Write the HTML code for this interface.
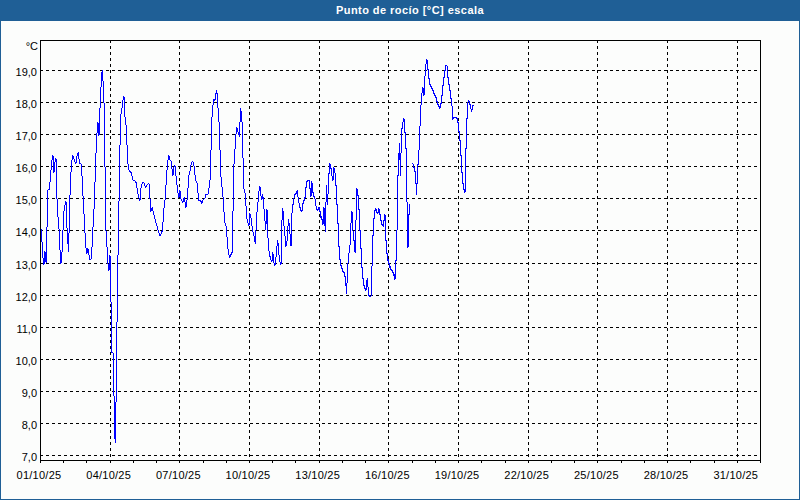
<!DOCTYPE html>
<html><head><meta charset="utf-8"><style>
html,body{margin:0;padding:0;width:800px;height:500px;overflow:hidden;background:#fcfdfc}
svg{display:block}
text{font-family:"Liberation Sans",sans-serif;font-size:11px;fill:#000}
.g{stroke:#000;stroke-width:1;stroke-dasharray:3 3;fill:none}
.t{font-weight:bold;fill:#fff}
</style></head><body>
<svg width="800" height="500" viewBox="0 0 800 500">
<rect x="0" y="0" width="800" height="500" fill="#1f5f96"/>
<rect x="1" y="21" width="798" height="478" fill="#fcfdfc"/>
<text class="t" x="410" y="14" text-anchor="middle" letter-spacing="0.45">Punto de rocío [°C] escala</text>
<line x1="40" y1="70.5" x2="760" y2="70.5" class="g"/>
<line x1="40" y1="102.5" x2="760" y2="102.5" class="g"/>
<line x1="40" y1="134.5" x2="760" y2="134.5" class="g"/>
<line x1="40" y1="166.5" x2="760" y2="166.5" class="g"/>
<line x1="40" y1="198.5" x2="760" y2="198.5" class="g"/>
<line x1="40" y1="230.5" x2="760" y2="230.5" class="g"/>
<line x1="40" y1="263.5" x2="760" y2="263.5" class="g"/>
<line x1="40" y1="295.5" x2="760" y2="295.5" class="g"/>
<line x1="40" y1="327.5" x2="760" y2="327.5" class="g"/>
<line x1="40" y1="359.5" x2="760" y2="359.5" class="g"/>
<line x1="40" y1="391.5" x2="760" y2="391.5" class="g"/>
<line x1="40" y1="423.5" x2="760" y2="423.5" class="g"/>
<line x1="40" y1="455.5" x2="760" y2="455.5" class="g"/>
<line x1="110.5" y1="40" x2="110.5" y2="460" class="g"/>
<line x1="179.5" y1="40" x2="179.5" y2="460" class="g"/>
<line x1="249.5" y1="40" x2="249.5" y2="460" class="g"/>
<line x1="319.5" y1="40" x2="319.5" y2="460" class="g"/>
<line x1="388.5" y1="40" x2="388.5" y2="460" class="g"/>
<line x1="458.5" y1="40" x2="458.5" y2="460" class="g"/>
<line x1="528.5" y1="40" x2="528.5" y2="460" class="g"/>
<line x1="597.5" y1="40" x2="597.5" y2="460" class="g"/>
<line x1="667.5" y1="40" x2="667.5" y2="460" class="g"/>
<line x1="737.5" y1="40" x2="737.5" y2="460" class="g"/>
<path d="M40.5 460V463 M63.5 460V463 M86.5 460V463 M110.5 460V463 M133.5 460V463 M156.5 460V463 M179.5 460V463 M203.5 460V463 M226.5 460V463 M249.5 460V463 M272.5 460V463 M295.5 460V463 M319.5 460V463 M342.5 460V463 M365.5 460V463 M388.5 460V463 M412.5 460V463 M435.5 460V463 M458.5 460V463 M481.5 460V463 M505.5 460V463 M528.5 460V463 M551.5 460V463 M574.5 460V463 M597.5 460V463 M621.5 460V463 M644.5 460V463 M667.5 460V463 M690.5 460V463 M714.5 460V463 M737.5 460V463 M760.5 460V463" stroke="#000" stroke-width="1" fill="none"/>
<rect x="40.5" y="40.5" width="720" height="420" fill="none" stroke="#000" stroke-width="1"/>
<path d="M40.5 229.5 L41.5 229.5 L41.5 241.5 L42.5 242.5 L42.5 257.5 L43.5 258.5 L43.5 264.5 L44.5 263.5 L44.5 251.5 L45.5 252.5 L45.5 260.5 L46.5 262.5 L46.5 227.5 L47.5 226.5 L47.5 190.5 L48.5 189.5 L49.5 189.5 L49.5 182.5 L50.5 181.5 L50.5 170.5 L51.5 169.5 L51.5 160.5 L52.5 159.5 L52.5 155.5 L53.5 156.5 L53.5 172.5 L54.5 171.5 L54.5 162.5 L55.5 161.5 L55.5 158.5 L56.5 160.5 L56.5 198.5 L57.5 199.5 L57.5 216.5 L58.5 217.5 L58.5 228.5 L59.5 229.5 L59.5 249.5 L60.5 250.5 L60.5 263.5 L61.5 262.5 L61.5 252.5 L62.5 251.5 L62.5 230.5 L63.5 229.5 L63.5 211.5 L64.5 210.5 L64.5 205.5 L65.5 204.5 L65.5 201.5 L66.5 202.5 L66.5 227.5 L67.5 228.5 L67.5 243.5 L68.5 244.5 L68.5 251.5 L68.5 245.5 L68.5 233.5 L69.5 232.5 L69.5 195.5 L70.5 194.5 L70.5 172.5 L71.5 171.5 L71.5 160.5 L72.5 159.5 L72.5 155.5 L73.5 156.5 L73.5 158.5 L74.5 159.5 L74.5 161.5 L75.5 162.5 L75.5 163.5 L76.5 162.5 L76.5 156.5 L77.5 155.5 L77.5 153.5 L78.5 152.5 L78.5 151.5 L78.5 152.5 L78.5 158.5 L79.5 159.5 L79.5 163.5 L80.5 163.5 L81.5 164.5 L81.5 175.5 L82.5 176.5 L82.5 195.5 L83.5 196.5 L83.5 213.5 L84.5 214.5 L84.5 232.5 L85.5 233.5 L85.5 247.5 L86.5 248.5 L86.5 253.5 L87.5 252.5 L87.5 248.5 L88.5 249.5 L88.5 254.5 L89.5 255.5 L89.5 259.5 L90.5 259.5 L91.5 258.5 L91.5 247.5 L92.5 246.5 L92.5 227.5 L93.5 226.5 L93.5 209.5 L94.5 208.5 L94.5 182.5 L95.5 181.5 L95.5 153.5 L96.5 152.5 L96.5 133.5 L97.5 132.5 L97.5 122.5 L98.5 123.5 L98.5 135.5 L99.5 134.5 L99.5 108.5 L100.5 107.5 L100.5 87.5 L101.5 86.5 L101.5 72.5 L102.5 71.5 L102.5 69.5 L102.5 70.5 L102.5 80.5 L103.5 81.5 L103.5 102.5 L104.5 103.5 L104.5 166.5 L105.5 167.5 L105.5 230.5 L106.5 231.5 L106.5 246.5 L107.5 247.5 L107.5 263.5 L108.5 264.5 L108.5 270.5 L109.5 269.5 L109.5 255.5 L110.5 256.5 L110.5 301.5 L111.5 302.5 L111.5 352.5 L112.5 352.5 L113.5 353.5 L113.5 395.5 L114.5 396.5 L114.5 438.5 L115.5 439.5 L115.5 442.5 L115.5 441.5 L115.5 402.5 L116.5 401.5 L116.5 322.5 L117.5 321.5 L117.5 255.5 L118.5 254.5 L118.5 201.5 L119.5 200.5 L119.5 145.5 L120.5 144.5 L120.5 114.5 L121.5 113.5 L121.5 108.5 L122.5 107.5 L122.5 100.5 L123.5 99.5 L123.5 96.5 L124.5 97.5 L124.5 116.5 L125.5 117.5 L125.5 124.5 L126.5 125.5 L126.5 144.5 L127.5 145.5 L127.5 163.5 L128.5 164.5 L128.5 169.5 L129.5 170.5 L129.5 171.5 L130.5 171.5 L130.5 172.5 L131.5 172.5 L131.5 175.5 L132.5 176.5 L132.5 179.5 L133.5 180.5 L134.5 180.5 L135.5 181.5 L135.5 182.5 L136.5 182.5 L136.5 187.5 L137.5 188.5 L137.5 193.5 L138.5 194.5 L138.5 197.5 L139.5 198.5 L139.5 200.5 L140.5 199.5 L140.5 188.5 L141.5 187.5 L141.5 184.5 L142.5 183.5 L142.5 182.5 L143.5 182.5 L144.5 183.5 L144.5 185.5 L145.5 186.5 L145.5 187.5 L146.5 186.5 L146.5 185.5 L147.5 184.5 L148.5 183.5 L149.5 184.5 L149.5 198.5 L150.5 199.5 L150.5 211.5 L151.5 210.5 L151.5 208.5 L152.5 207.5 L152.5 210.5 L153.5 211.5 L153.5 214.5 L154.5 215.5 L154.5 218.5 L155.5 219.5 L155.5 222.5 L156.5 223.5 L156.5 225.5 L157.5 226.5 L157.5 229.5 L158.5 230.5 L158.5 232.5 L159.5 233.5 L159.5 235.5 L160.5 235.5 L160.5 234.5 L161.5 233.5 L161.5 231.5 L162.5 231.5 L162.5 222.5 L163.5 221.5 L163.5 208.5 L164.5 207.5 L164.5 200.5 L165.5 199.5 L165.5 185.5 L166.5 184.5 L166.5 170.5 L167.5 169.5 L167.5 160.5 L168.5 159.5 L168.5 155.5 L169.5 156.5 L169.5 159.5 L170.5 160.5 L171.5 161.5 L171.5 168.5 L172.5 169.5 L172.5 175.5 L173.5 174.5 L173.5 167.5 L174.5 166.5 L174.5 165.5 L175.5 167.5 L175.5 175.5 L176.5 176.5 L176.5 184.5 L177.5 185.5 L177.5 192.5 L178.5 193.5 L178.5 197.5 L179.5 196.5 L179.5 190.5 L180.5 191.5 L180.5 198.5 L181.5 199.5 L181.5 200.5 L182.5 201.5 L182.5 202.5 L183.5 201.5 L183.5 198.5 L184.5 197.5 L184.5 196.5 L184.5 197.5 L184.5 201.5 L185.5 202.5 L185.5 207.5 L186.5 206.5 L186.5 200.5 L187.5 199.5 L187.5 188.5 L188.5 187.5 L188.5 175.5 L189.5 174.5 L189.5 171.5 L190.5 170.5 L190.5 165.5 L191.5 164.5 L191.5 162.5 L192.5 161.5 L193.5 162.5 L193.5 165.5 L194.5 166.5 L194.5 174.5 L195.5 175.5 L195.5 180.5 L196.5 181.5 L196.5 182.5 L197.5 183.5 L197.5 192.5 L198.5 193.5 L198.5 200.5 L199.5 200.5 L200.5 200.5 L201.5 202.5 L201.5 203.5 L202.5 202.5 L202.5 200.5 L203.5 199.5 L204.5 198.5 L205.5 197.5 L205.5 194.5 L206.5 194.5 L207.5 194.5 L208.5 193.5 L208.5 188.5 L209.5 187.5 L209.5 180.5 L210.5 179.5 L210.5 150.5 L211.5 149.5 L211.5 117.5 L212.5 116.5 L212.5 105.5 L213.5 104.5 L213.5 99.5 L214.5 100.5 L215.5 98.5 L215.5 93.5 L216.5 92.5 L216.5 90.5 L217.5 96.5 L217.5 107.5 L218.5 108.5 L218.5 121.5 L219.5 122.5 L219.5 149.5 L220.5 150.5 L220.5 176.5 L221.5 177.5 L221.5 186.5 L222.5 187.5 L222.5 196.5 L223.5 197.5 L223.5 211.5 L224.5 212.5 L224.5 222.5 L225.5 223.5 L225.5 225.5 L226.5 226.5 L226.5 236.5 L227.5 237.5 L227.5 248.5 L228.5 249.5 L228.5 254.5 L229.5 255.5 L229.5 257.5 L230.5 255.5 L231.5 253.5 L232.5 251.5 L232.5 211.5 L233.5 210.5 L233.5 164.5 L234.5 163.5 L234.5 149.5 L235.5 148.5 L235.5 134.5 L236.5 133.5 L236.5 127.5 L237.5 128.5 L237.5 131.5 L238.5 132.5 L238.5 134.5 L239.5 135.5 L239.5 136.5 L239.5 135.5 L239.5 122.5 L240.5 121.5 L240.5 108.5 L241.5 113.5 L241.5 121.5 L242.5 122.5 L242.5 157.5 L243.5 158.5 L243.5 188.5 L244.5 189.5 L244.5 192.5 L245.5 193.5 L245.5 205.5 L246.5 206.5 L246.5 218.5 L247.5 219.5 L247.5 222.5 L248.5 223.5 L248.5 225.5 L249.5 223.5 L249.5 213.5 L250.5 214.5 L250.5 217.5 L251.5 218.5 L251.5 225.5 L252.5 226.5 L252.5 231.5 L253.5 232.5 L253.5 235.5 L254.5 236.5 L254.5 241.5 L255.5 242.5 L255.5 243.5 L255.5 242.5 L255.5 230.5 L256.5 229.5 L256.5 212.5 L257.5 211.5 L257.5 202.5 L258.5 201.5 L258.5 191.5 L259.5 190.5 L259.5 186.5 L260.5 188.5 L260.5 195.5 L261.5 196.5 L261.5 199.5 L262.5 198.5 L262.5 194.5 L263.5 199.5 L263.5 208.5 L264.5 209.5 L264.5 220.5 L265.5 221.5 L265.5 229.5 L266.5 219.5 L266.5 209.5 L267.5 210.5 L267.5 237.5 L268.5 238.5 L268.5 250.5 L269.5 251.5 L269.5 256.5 L270.5 256.5 L270.5 259.5 L271.5 260.5 L271.5 261.5 L272.5 259.5 L272.5 252.5 L273.5 255.5 L273.5 262.5 L274.5 263.5 L274.5 265.5 L275.5 263.5 L275.5 257.5 L276.5 256.5 L276.5 246.5 L277.5 245.5 L277.5 240.5 L278.5 246.5 L278.5 254.5 L279.5 255.5 L279.5 261.5 L280.5 262.5 L280.5 264.5 L281.5 263.5 L281.5 220.5 L282.5 219.5 L282.5 208.5 L283.5 214.5 L283.5 225.5 L284.5 226.5 L284.5 235.5 L285.5 236.5 L285.5 246.5 L286.5 245.5 L286.5 241.5 L287.5 240.5 L287.5 226.5 L288.5 225.5 L288.5 219.5 L289.5 226.5 L289.5 233.5 L290.5 234.5 L290.5 245.5 L291.5 245.5 L291.5 213.5 L292.5 212.5 L292.5 204.5 L293.5 204.5 L293.5 198.5 L294.5 197.5 L294.5 194.5 L295.5 194.5 L295.5 193.5 L296.5 193.5 L296.5 191.5 L297.5 190.5 L297.5 196.5 L298.5 197.5 L298.5 202.5 L299.5 203.5 L299.5 207.5 L300.5 207.5 L300.5 210.5 L301.5 210.5 L301.5 211.5 L302.5 210.5 L302.5 203.5 L303.5 203.5 L303.5 200.5 L304.5 200.5 L304.5 197.5 L305.5 197.5 L305.5 187.5 L306.5 187.5 L306.5 181.5 L307.5 181.5 L307.5 180.5 L308.5 180.5 L309.5 180.5 L309.5 188.5 L310.5 188.5 L310.5 196.5 L311.5 195.5 L311.5 181.5 L312.5 185.5 L312.5 192.5 L313.5 192.5 L313.5 196.5 L314.5 196.5 L314.5 198.5 L315.5 199.5 L315.5 205.5 L316.5 206.5 L316.5 209.5 L317.5 209.5 L317.5 210.5 L318.5 209.5 L318.5 207.5 L319.5 207.5 L319.5 211.5 L320.5 211.5 L320.5 217.5 L321.5 216.5 L321.5 219.5 L322.5 219.5 L322.5 224.5 L323.5 223.5 L323.5 207.5 L324.5 208.5 L324.5 225.5 L325.5 225.5 L325.5 231.5 L325.5 230.5 L325.5 202.5 L326.5 201.5 L326.5 184.5 L326.5 185.5 L326.5 193.5 L327.5 194.5 L327.5 204.5 L327.5 203.5 L327.5 194.5 L328.5 193.5 L328.5 173.5 L329.5 173.5 L329.5 163.5 L330.5 164.5 L330.5 168.5 L331.5 168.5 L331.5 175.5 L332.5 176.5 L332.5 180.5 L333.5 179.5 L333.5 167.5 L334.5 168.5 L334.5 172.5 L335.5 173.5 L335.5 185.5 L336.5 185.5 L336.5 204.5 L337.5 204.5 L337.5 223.5 L338.5 223.5 L338.5 246.5 L339.5 246.5 L339.5 259.5 L340.5 259.5 L340.5 265.5 L341.5 265.5 L341.5 268.5 L342.5 268.5 L342.5 271.5 L343.5 271.5 L343.5 272.5 L344.5 272.5 L344.5 276.5 L345.5 276.5 L345.5 285.5 L346.5 286.5 L346.5 293.5 L346.5 292.5 L346.5 283.5 L347.5 282.5 L347.5 263.5 L348.5 262.5 L348.5 253.5 L349.5 252.5 L349.5 245.5 L350.5 244.5 L350.5 223.5 L351.5 222.5 L351.5 211.5 L352.5 212.5 L352.5 230.5 L353.5 231.5 L353.5 240.5 L354.5 240.5 L354.5 251.5 L355.5 252.5 L355.5 220.5 L356.5 219.5 L356.5 188.5 L357.5 189.5 L357.5 195.5 L358.5 195.5 L358.5 209.5 L359.5 209.5 L359.5 230.5 L360.5 230.5 L360.5 248.5 L361.5 248.5 L361.5 267.5 L362.5 267.5 L362.5 278.5 L363.5 278.5 L363.5 285.5 L364.5 285.5 L364.5 288.5 L365.5 288.5 L365.5 290.5 L366.5 289.5 L366.5 280.5 L367.5 280.5 L367.5 277.5 L367.5 278.5 L367.5 286.5 L368.5 287.5 L368.5 295.5 L369.5 295.5 L369.5 296.5 L370.5 296.5 L371.5 295.5 L371.5 266.5 L372.5 265.5 L372.5 235.5 L373.5 235.5 L373.5 218.5 L374.5 218.5 L374.5 210.5 L375.5 210.5 L375.5 208.5 L376.5 209.5 L376.5 212.5 L377.5 212.5 L377.5 213.5 L378.5 212.5 L378.5 208.5 L379.5 209.5 L379.5 214.5 L380.5 214.5 L380.5 220.5 L381.5 220.5 L381.5 224.5 L382.5 224.5 L382.5 225.5 L383.5 225.5 L383.5 226.5 L383.5 225.5 L383.5 220.5 L384.5 220.5 L384.5 214.5 L385.5 215.5 L385.5 240.5 L386.5 240.5 L386.5 253.5 L387.5 253.5 L387.5 260.5 L388.5 259.5 L388.5 263.5 L389.5 263.5 L389.5 267.5 L390.5 266.5 L390.5 269.5 L391.5 269.5 L391.5 270.5 L392.5 270.5 L392.5 272.5 L393.5 272.5 L393.5 275.5 L394.5 274.5 L394.5 279.5 L395.5 278.5 L395.5 260.5 L396.5 260.5 L396.5 230.5 L397.5 229.5 L397.5 175.5 L398.5 175.5 L398.5 153.5 L399.5 154.5 L399.5 142.5 L399.5 143.5 L399.5 159.5 L400.5 159.5 L400.5 175.5 L400.5 174.5 L400.5 153.5 L401.5 152.5 L401.5 128.5 L402.5 128.5 L402.5 122.5 L403.5 121.5 L403.5 118.5 L404.5 119.5 L404.5 132.5 L405.5 132.5 L405.5 148.5 L406.5 148.5 L406.5 201.5 L407.5 202.5 L407.5 247.5 L408.5 246.5 L408.5 214.5 L409.5 214.5 L409.5 203.5 M412.5 163.5 L413.5 164.5 L413.5 167.5 L414.5 167.5 L414.5 171.5 L415.5 171.5 L415.5 183.5 L416.5 183.5 L416.5 194.5 L416.5 193.5 L416.5 183.5 L417.5 183.5 L417.5 164.5 L418.5 164.5 L418.5 150.5 L419.5 149.5 L419.5 126.5 L420.5 125.5 L420.5 105.5 L421.5 104.5 L421.5 93.5 L422.5 92.5 L422.5 87.5 L423.5 89.5 L423.5 95.5 L424.5 94.5 L424.5 76.5 L425.5 75.5 L425.5 64.5 L426.5 63.5 L426.5 59.5 L427.5 60.5 L427.5 69.5 L428.5 69.5 L428.5 78.5 L429.5 78.5 L429.5 84.5 L430.5 84.5 L430.5 86.5 L431.5 86.5 L431.5 88.5 L432.5 88.5 L432.5 90.5 L433.5 90.5 L433.5 93.5 L434.5 93.5 L434.5 95.5 L435.5 95.5 L435.5 97.5 L436.5 97.5 L436.5 101.5 L437.5 101.5 L437.5 104.5 L438.5 104.5 L438.5 106.5 L439.5 106.5 L439.5 108.5 L440.5 106.5 L440.5 103.5 L441.5 103.5 L441.5 95.5 L442.5 95.5 L442.5 85.5 L443.5 85.5 L443.5 77.5 L444.5 77.5 L444.5 70.5 L445.5 70.5 L445.5 65.5 L446.5 65.5 L447.5 66.5 L447.5 77.5 L448.5 77.5 L448.5 84.5 L449.5 84.5 L449.5 90.5 L450.5 90.5 L450.5 98.5 L451.5 98.5 L451.5 105.5 L452.5 106.5 L452.5 119.5 L453.5 118.5 L453.5 117.5 L455.5 117.5 L456.5 117.5 L456.5 118.5 L457.5 118.5 L457.5 122.5 L458.5 122.5 L458.5 131.5 L459.5 131.5 L459.5 140.5 L460.5 140.5 L460.5 155.5 L461.5 155.5 L461.5 172.5 L462.5 172.5 L462.5 183.5 L463.5 183.5 L463.5 189.5 L464.5 189.5 L464.5 192.5 L465.5 191.5 L465.5 148.5 L466.5 148.5 L466.5 118.5 L467.5 118.5 L467.5 102.5 L468.5 101.5 L468.5 100.5 L469.5 101.5 L469.5 104.5 L470.5 104.5 L470.5 108.5 L471.5 109.5 L471.5 111.5 L472.5 108.5 L472.5 105.5 L473.5 105.5 L473.5 104.5" fill="none" stroke="#0000ff" stroke-width="1" shape-rendering="crispEdges"/>
<text x="37" y="76" text-anchor="end">19,0</text>
<text x="37" y="108" text-anchor="end">18,0</text>
<text x="37" y="140" text-anchor="end">17,0</text>
<text x="37" y="172" text-anchor="end">16,0</text>
<text x="37" y="204" text-anchor="end">15,0</text>
<text x="37" y="236" text-anchor="end">14,0</text>
<text x="37" y="269" text-anchor="end">13,0</text>
<text x="37" y="301" text-anchor="end">12,0</text>
<text x="37" y="333" text-anchor="end">11,0</text>
<text x="37" y="365" text-anchor="end">10,0</text>
<text x="37" y="397" text-anchor="end">9,0</text>
<text x="37" y="429" text-anchor="end">8,0</text>
<text x="37" y="461" text-anchor="end">7,0</text>
<text x="38" y="50" text-anchor="end">°C</text>
<text x="39.0" y="479" text-anchor="middle" letter-spacing="0.25">01/10/25</text>
<text x="108.7" y="479" text-anchor="middle" letter-spacing="0.25">04/10/25</text>
<text x="178.4" y="479" text-anchor="middle" letter-spacing="0.25">07/10/25</text>
<text x="248.0" y="479" text-anchor="middle" letter-spacing="0.25">10/10/25</text>
<text x="317.7" y="479" text-anchor="middle" letter-spacing="0.25">13/10/25</text>
<text x="387.4" y="479" text-anchor="middle" letter-spacing="0.25">16/10/25</text>
<text x="457.1" y="479" text-anchor="middle" letter-spacing="0.25">19/10/25</text>
<text x="526.7" y="479" text-anchor="middle" letter-spacing="0.25">22/10/25</text>
<text x="596.4" y="479" text-anchor="middle" letter-spacing="0.25">25/10/25</text>
<text x="666.1" y="479" text-anchor="middle" letter-spacing="0.25">28/10/25</text>
<text x="735.8" y="479" text-anchor="middle" letter-spacing="0.25">31/10/25</text>
</svg>
</body></html>
